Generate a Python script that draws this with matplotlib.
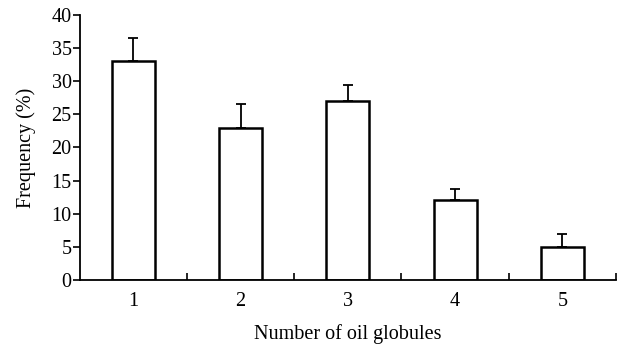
import matplotlib
matplotlib.use("Agg")
import matplotlib.pyplot as plt
import numpy as np

plt.rcParams['font.family'] = ['Liberation Serif', 'DejaVu Serif']

globules = [1, 2, 3, 4, 5]
frequency = [33, 23, 27, 12, 5]
err_upper = [3.6, 3.6, 2.4, 1.7, 2.0]

fig = plt.figure(figsize=(6.24, 3.49), dpi=100)
ax = fig.add_axes([0.128, 0.198, 0.859, 0.759])

x = np.array(globules)
ax.bar(x, frequency, width=0.4, color='white', edgecolor='black', linewidth=1.8, zorder=2)
ax.errorbar(x, frequency, yerr=[np.zeros(len(x)), err_upper], fmt='none',
            ecolor='black', elinewidth=1.3, capsize=3.5, capthick=1.3, zorder=3)

ax.set_xlim(0.5, 5.5)
ax.set_ylim(0, 40)
ax.set_yticks(range(0, 41, 5))
ax.set_xticks(globules)
ax.set_xticks([1.5, 2.5, 3.5, 4.5, 5.5], minor=True)
ax.tick_params(axis='x', which='major', length=0, labelsize=14.5, pad=9)
ax.tick_params(axis='x', which='minor', direction='in', length=5, width=1.2)
ax.tick_params(axis='y', direction='out', length=5, width=1.2, labelsize=14.5, pad=1)

for side in ['top', 'right']:
    ax.spines[side].set_visible(False)
for side in ['left', 'bottom']:
    ax.spines[side].set_linewidth(1.3)

ax.set_xlabel('Number of oil globules', fontsize=14.5, labelpad=9)
ax.set_ylabel('Frequency (%)', fontsize=14.5, labelpad=11)

fig.savefig('out.png', dpi=100)
